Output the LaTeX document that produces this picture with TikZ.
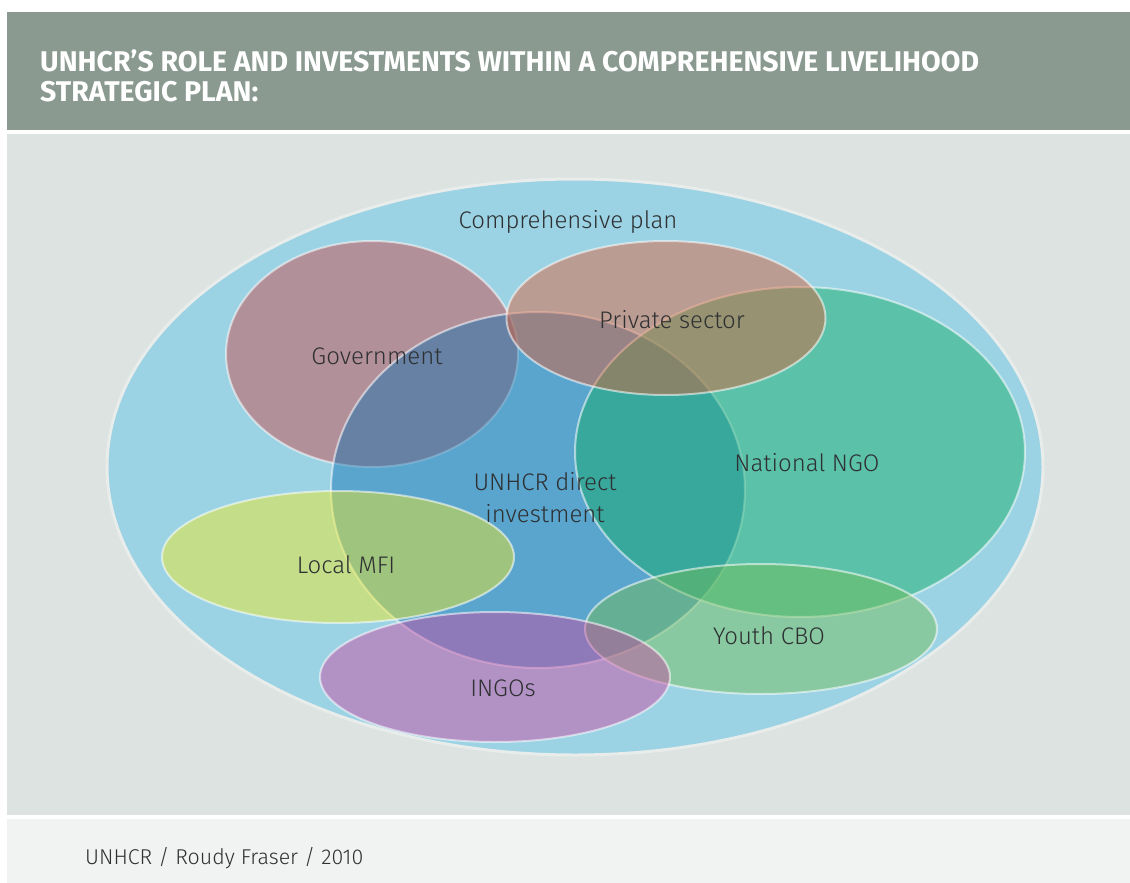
\documentclass[tikz,border=0pt]{standalone}
\usepackage{fontspec}
\setmainfont{Fira Sans}[UprightFont=* Light, BoldFont=* Bold]
\newfontfamily\titlefont{Fira Sans}[UprightFont=* Bold]
\usetikzlibrary{shapes.geometric}
\definecolor{hdr}{RGB}{138,154,145}
\definecolor{panel}{RGB}{221,227,225}
\definecolor{foot}{RGB}{241,243,242}
\definecolor{bigblue}{RGB}{155,211,228}
\definecolor{bigedge}{RGB}{232,236,234}
\definecolor{txt}{RGB}{46,48,50}
\definecolor{cgov}{RGB}{208,64,66}
\definecolor{cunhcr}{RGB}{13,111,177}
\definecolor{cpriv}{RGB}{226,91,48}
\definecolor{cngo}{RGB}{15,173,99}
\definecolor{cmfi}{RGB}{244,235,28}
\definecolor{cyouth}{RGB}{115,189,81}
\definecolor{cingo}{RGB}{206,69,161}
\tikzset{
  blob/.style={ellipse, inner sep=0pt, minimum width=#1},
  sub/.style={fill opacity=0.45, draw=white, draw opacity=0.55, line width=2pt},
  lbl/.style={text=txt, font=\fontsize{24}{30}\selectfont, anchor=base, inner sep=0pt, align=center}
}
\begin{document}
\begin{tikzpicture}[x=1pt,y=-1pt]
\useasboundingbox (0,0) rectangle (1130,883);
\fill[white] (0,0) rectangle (1130,883);
\fill[hdr] (7,12) rectangle (1130,130);
\fill[panel] (7,134) rectangle (1130,815);
\fill[foot] (7,819) rectangle (1130,883);
\node[anchor=base west, text=white, inner sep=0pt, align=left, font=\titlefont\fontsize{28.5}{31}\selectfont] (title) at (40,102)
  {UNHCR’S ROLE AND INVESTMENTS WITHIN A COMPREHENSIVE LIVELIHOOD\\STRATEGIC PLAN:};
\node[anchor=base west, text=txt, inner sep=0pt, font=\fontsize{21.4}{26}\selectfont] (credit) at (85,864) {UNHCR / Roudy Fraser / 2010};
% ellipses
\node[blob=936pt, minimum height=576pt, fill=bigblue, draw=bigedge, line width=3pt] (comp) at (575,467) {};
\node[blob=292pt, minimum height=226pt, sub, fill=cgov] (gov) at (372,354) {};
\node[blob=414pt, minimum height=356pt, sub, fill=cunhcr] (unhcr) at (538,490) {};
\node[blob=450pt, minimum height=330pt, sub, fill=cngo] (ngo) at (800,452) {};
\node[blob=319pt, minimum height=154pt, sub, fill=cpriv] (priv) at (666,318) {};
\node[blob=352pt, minimum height=132pt, sub, fill=cmfi] (mfi) at (338,557) {};
\node[blob=352pt, minimum height=130pt, sub, fill=cyouth] (youth) at (761,629) {};
\node[blob=350pt, minimum height=130pt, sub, fill=cingo] (ingo) at (495,677) {};
% labels
\node[lbl] (lcomp) at (568,228) {Comprehensive plan};
\node[lbl] (lgov) at (377,364) {Government};
\node[lbl] (lpriv) at (672,328) {Private sector};
\node[lbl] (lunhcr1) at (545,490) {UNHCR direct};
\node[lbl] (lunhcr2) at (545,522) {investment};
\node[lbl] (lngo) at (807,471) {National NGO};
\node[lbl] (lmfi) at (346,573) {Local MFI};
\node[lbl] (lyouth) at (769,644) {Youth CBO};
\node[lbl] (lingo) at (503,696) {INGOs};
\end{tikzpicture}
\end{document}
